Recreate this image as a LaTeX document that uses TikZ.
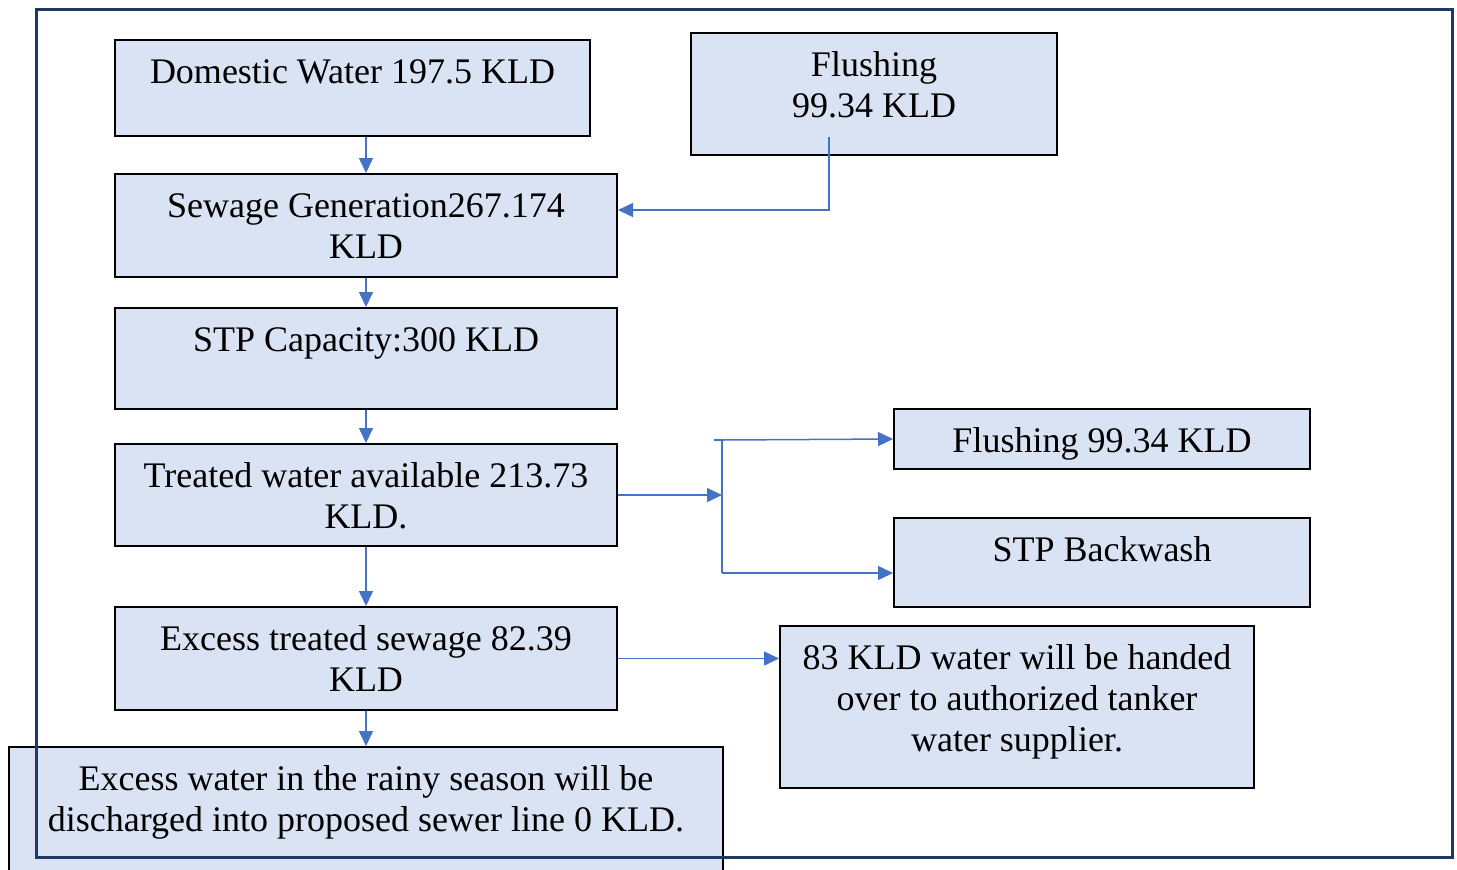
\documentclass[tikz,border=0pt]{standalone}
\usepackage{fontspec}
\setmainfont{Liberation Serif}
\usetikzlibrary{arrows.meta}

\definecolor{boxfill}{RGB}{218,227,243}
\definecolor{arrowblue}{RGB}{68,114,196}
\definecolor{framenavy}{RGB}{32,56,100}

\tikzset{every picture/.style={line width=0.75pt}}
\tikzset{
  box/.style={draw=black, fill=boxfill, line width=1pt, inner sep=0pt, anchor=north west,
    align=center, text height=21.5pt, font=\fontsize{18}{20.5}\selectfont},
  flow/.style={draw=arrowblue, line width=0.75pt, -{Triangle[length=7.5pt,width=7pt]}},
  wire/.style={draw=arrowblue, line width=0.75pt},
  frame/.style={draw=framenavy, line width=1.5pt}
}

\begin{document}
\begin{tikzpicture}[x=0.5pt,y=0.5pt,yscale=-1,xscale=1]
\useasboundingbox (0,0) rectangle (1457,869);

%Boxes, left column
\node[box, minimum width=237.5pt, text depth=26.5pt] (dom) at (114,39) {Domestic Water 197.5 KLD};
\node[box, minimum width=251pt, text height=42pt, text depth=9.5pt] (sew) at (114,173) {Sewage Generation267.174\\KLD};
\node[box, minimum width=251pt, text depth=29pt] (stp) at (114,307) {STP Capacity:300 KLD};
\node[box, minimum width=251pt, text height=42pt, text depth=9pt] (trt) at (114,443) {Treated water available 213.73\\KLD.};
\node[box, minimum width=251pt, text height=42pt, text depth=9.5pt] (exc) at (114,606) {Excess treated sewage 82.39\\KLD};
\node[box, minimum width=357pt, text height=42pt, text depth=25pt] (rain) at (8,746) {Excess water in the rainy season will be\\discharged into proposed sewer line 0 KLD.};

%Boxes, right side
\node[box, minimum width=183pt, text height=42pt, text depth=19pt] (fl1) at (690,32) {Flushing\\99.34 KLD};
\node[box, minimum width=208pt, text depth=8.5pt] (fl2) at (893,408) {Flushing 99.34 KLD};
\node[box, minimum width=208pt, text depth=23pt] (bw) at (893,517) {STP Backwash};
\node[box, minimum width=237pt, text height=62.5pt, text depth=18.5pt] (tank) at (779,625) {83 KLD water will be handed\\over to authorized tanker\\water supplier.};

%Split points
\coordinate (f1) at (829,137);
\coordinate (js) at (714,440);
\coordinate (jt) at (722,440);
\coordinate (jm) at (722,492);
\coordinate (jb) at (722,573);

%Connectors
\draw[flow] (sew.north |- dom.south) -- (sew.north);
\draw[flow] (f1) |- ([yshift=-7.75pt]sew.east);
\draw[flow] (sew.south) -- (stp.north);
\draw[flow] (stp.south) -- (trt.north);
\draw[flow] (trt.east) -- (trt.east -| jm);
\draw[wire] (js) -- (jt) -- (jb);
\draw[flow] (jt) -- (fl2.west);
\draw[flow] (jb) -- ([yshift=5.25pt]bw.west);
\draw[flow] (trt.south) -- (exc.north);
\draw[flow] (exc.south) -- (rain.north);
\draw[flow] (exc.east) -- (exc.east -| tank.west);

%Outer frame
\draw[frame] (36,9) rectangle (1452,857);

\end{tikzpicture}
\end{document}
